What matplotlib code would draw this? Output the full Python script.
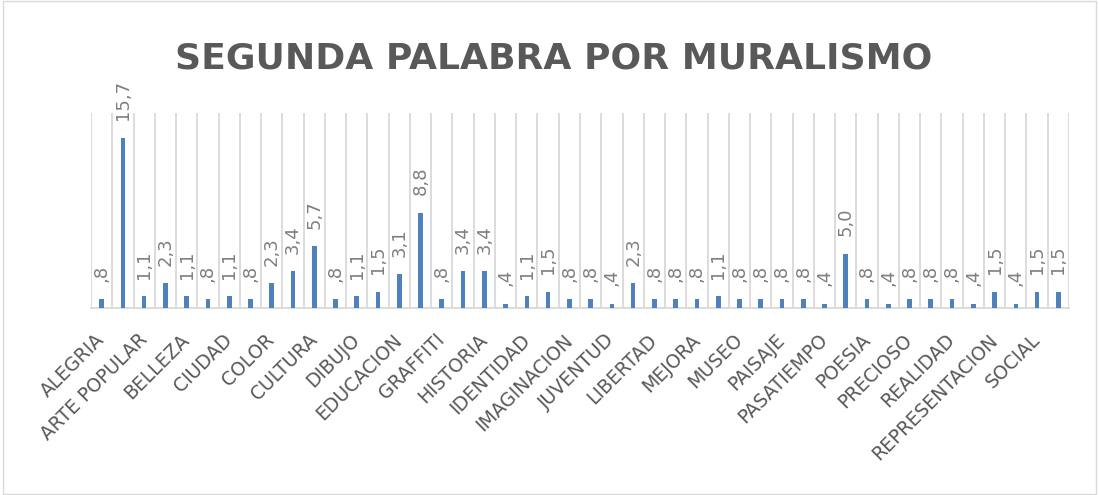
import numpy as np
from matplotlib import pyplot as plt
from matplotlib.patches import Rectangle

# 46 categories, only every other name is printed on the axis
shown_labels = ['ALEGRIA', 'ARTE POPULAR', 'BELLEZA', 'CIUDAD', 'COLOR', 'CULTURA',
                'DIBUJO', 'EDUCACION', 'GRAFFITI', 'HISTORIA', 'IDENTIDAD',
                'IMAGINACION', 'JUVENTUD', 'LIBERTAD', 'MEJORA', 'MUSEO', 'PAISAJE',
                'PASATIEMPO', 'POESIA', 'PRECIOSO', 'REALIDAD', 'REPRESENTACION',
                'SOCIAL']
values = [0.8, 15.7, 1.1, 2.3, 1.1, 0.8, 1.1, 0.8, 2.3, 3.4,
          5.7, 0.8, 1.1, 1.5, 3.1, 8.8, 0.8, 3.4, 3.4, 0.4,
          1.1, 1.5, 0.8, 0.8, 0.4, 2.3, 0.8, 0.8, 0.8, 1.1,
          0.8, 0.8, 0.8, 0.8, 0.4, 5.0, 0.8, 0.4, 0.8, 0.8,
          0.8, 0.4, 1.5, 0.4, 1.5, 1.5]
title = 'SEGUNDA PALABRA POR MURALISMO'


def fmt(v):
    s = f"{v:.1f}".replace('.', ',')
    if s.startswith('0'):
        s = s[1:]
    return s


fig = plt.figure(figsize=(10.99, 4.95), dpi=100)
fig.patches.append(Rectangle((0.003, 0.003), 0.994, 0.994, transform=fig.transFigure,
                             fill=False, edgecolor='#d9d9d9', linewidth=1))
ax = fig.add_axes([0.0828, 0.378, 0.8899, 0.394])

x = np.arange(len(values))
bars = ax.bar(x, values, width=0.22, color='#4F81BD', zorder=3)

for xi, v in zip(x, values):
    ax.text(xi, v + 1.6, fmt(v), rotation=90, ha='center', va='bottom',
            fontsize=13, color='#7f7f7f', family='DejaVu Sans')

ax.set_xlim(-0.5, len(values) - 0.5)
ax.set_ylim(0, 18)

# vertical gridlines between categories
for b in np.arange(-0.5, len(values), 1.0):
    ax.axvline(b, color='#d9d9d9', linewidth=1.3, zorder=1)

for s in ['top', 'right', 'left']:
    ax.spines[s].set_visible(False)
ax.spines['bottom'].set_color('#d9d9d9')
ax.spines['bottom'].set_linewidth(1.3)
ax.set_yticks([])

ax.set_xticks(x[::2])
ax.set_xticklabels(shown_labels, rotation=45, ha='right', va='center',
                   rotation_mode='anchor', fontsize=13.5, color='#595959',
                   family='DejaVu Sans')
ax.tick_params(axis='x', length=0, pad=21)

fig.text(0.5036, 1 - 68.5 / 495, title, ha='center', va='baseline', fontsize=26,
         fontweight='bold', color='#595959', family='DejaVu Sans')

fig.savefig('out.png', dpi=100)
